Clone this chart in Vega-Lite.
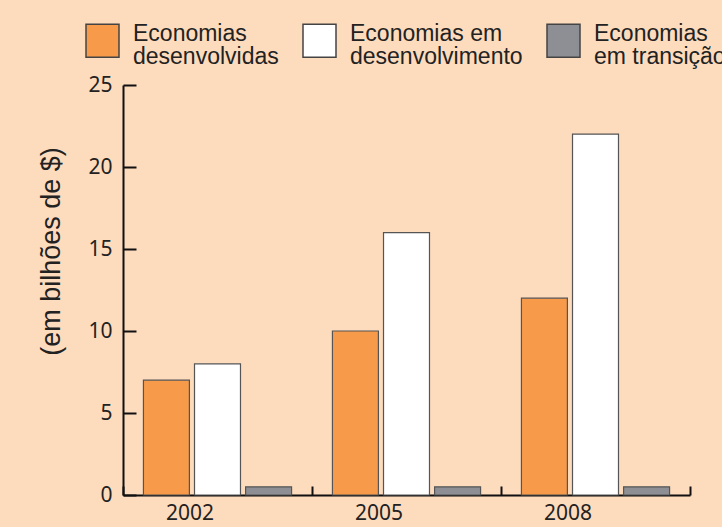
{
  "$schema": "https://vega.github.io/schema/vega-lite/v6.json",
  "width": 567,
  "height": 410,
  "autosize": {"type": "none"},
  "padding": {"left": 123, "top": 85, "right": 32, "bottom": 32},
  "background": "#FDDBBD",
  "data": {
    "values": [
      {"ano": "2002", "tipo": "Economias desenvolvidas", "valor": 7},
      {"ano": "2002", "tipo": "Economias em desenvolvimento", "valor": 8},
      {"ano": "2002", "tipo": "Economias em transição", "valor": 0.5},
      {"ano": "2005", "tipo": "Economias desenvolvidas", "valor": 10},
      {"ano": "2005", "tipo": "Economias em desenvolvimento", "valor": 16},
      {"ano": "2005", "tipo": "Economias em transição", "valor": 0.5},
      {"ano": "2008", "tipo": "Economias desenvolvidas", "valor": 12},
      {"ano": "2008", "tipo": "Economias em desenvolvimento", "valor": 22},
      {"ano": "2008", "tipo": "Economias em transição", "valor": 0.5}
    ]
  },
  "mark": {"type": "bar", "stroke": "#555555", "strokeWidth": 1.2},
  "encoding": {
    "x": {
      "field": "ano",
      "type": "nominal",
      "scale": {"paddingInner": 0, "paddingOuter": 0},
      "axis": {
        "title": null,
        "labelAngle": 0,
        "tickBand": "extent",
        "tickSize": -9,
        "tickWidth": 2,
        "tickColor": "#111111",
        "domainColor": "#111111",
        "domainWidth": 2,
        "labelFont": "Noto Sans",
        "labelFontSize": 21,
        "labelColor": "#222222",
        "labelOffset": -28,
        "labelPadding": 16
      }
    },
    "xOffset": {
      "field": "tipo",
      "type": "nominal",
      "scale": {"paddingInner": 0.1, "paddingOuter": 0.4, "domain": ["Economias desenvolvidas", "Economias em desenvolvimento", "Economias em transição"]}
    },
    "y": {
      "field": "valor",
      "type": "quantitative",
      "scale": {"domain": [0, 25], "nice": false},
      "axis": {
        "title": "(em bilhões de $)",
        "titleFont": "Liberation Sans",
        "titleFontSize": 27,
        "titleFontWeight": "normal",
        "titleColor": "#222222",
        "titleAngle": -90,
        "titleX": -72,
        "titleY": 166,
        "titleAlign": "center",
        "titleBaseline": "middle",
        "values": [0, 5, 10, 15, 20, 25],
        "grid": false,
        "tickSize": -13,
        "tickWidth": 2,
        "tickColor": "#111111",
        "domainColor": "#111111",
        "domainWidth": 2,
        "labelFont": "Noto Sans",
        "labelFontSize": 21,
        "labelColor": "#222222",
        "labelPadding": 24
      }
    },
    "fill": {
      "field": "tipo",
      "type": "nominal",
      "scale": {
        "domain": ["Economias desenvolvidas", "Economias em desenvolvimento", "Economias em transição"],
        "range": ["#F79B4B", "#FFFFFF", "#8E8F94"]
      },
      "legend": {
        "title": null,
        "orient": "none",
        "direction": "horizontal",
        "legendX": -38,
        "legendY": -62,
        "symbolType": "square",
        "symbolSize": 1089,
        "symbolStrokeColor": "#444444",
        "symbolStrokeWidth": 1.5,
        "symbolOpacity": 1,
        "labelFont": "Liberation Sans",
        "labelFontSize": 23,
        "labelColor": "#222222",
        "labelOffset": 13,
        "labelLimit": 400,
        "labelBaseline": "alphabetic",
        "columnPadding": 21,
        "labelExpr": "datum.label == 'Economias em desenvolvimento' ? ['Economias em', 'desenvolvimento'] : ['Economias', slice(datum.label, 10)]"
      }
    }
  },
  "config": {"view": {"stroke": null}, "style": {"guide-label": {"lineHeight": 23}}}
}
